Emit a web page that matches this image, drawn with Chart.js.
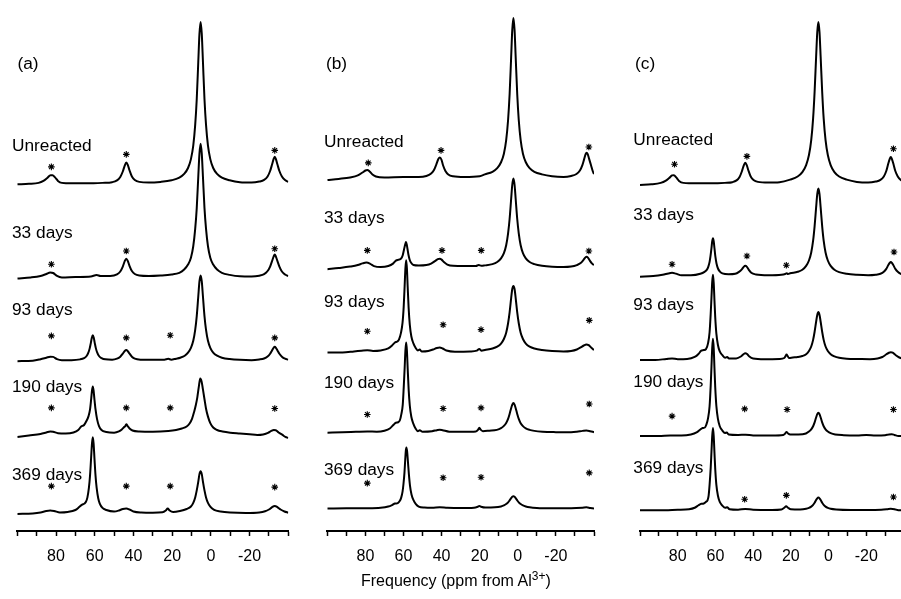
<!DOCTYPE html>
<html>
<head>
<meta charset="utf-8">
<script src="https://cdn.jsdelivr.net/npm/chart.js@4.4.1/dist/chart.umd.min.js"></script>
<style>
  html, body { margin: 0; padding: 0; background: #fff; }
  body { width: 901px; height: 599px; overflow: hidden; position: relative; font-family: "Liberation Sans", Arial, sans-serif; }
  canvas { position: absolute; top: 0; }
  #xtitle { position: absolute; left: 361px; top: 572px; font-size: 16px; line-height: 18px; white-space: nowrap;
            transform-origin: 0 0; transform: scaleX(1.0); color: #000; }
  #xtitle sup { font-size: 12px; vertical-align: 6px; line-height: 0; }
</style>
</head>
<body>
<canvas id="chartA" width="300" height="599" style="left:0px;width:300px;height:599px"></canvas>
<canvas id="chartB" width="305" height="599" style="left:300px;width:305px;height:599px"></canvas>
<canvas id="chartC" width="310" height="599" style="left:605px;width:310px;height:599px"></canvas>
<div id="xtitle">Frequency (ppm from Al<sup>3+</sup>)</div>
<script>
// Etiquetas de las muestras y del eje
const sampleNames = ['Unreacted', '33 days', '93 days', '190 days', '369 days'];
const ppmTicks = [100, 90, 80, 70, 60, 50, 40, 30, 20, 10, 0, -10, -20, -30, -40];
const tickLabels = [80, 60, 40, 20, 0, -20];

// Espectros: [ppm, intensidad sobre la línea base]
// ---- panel (a)
const aUnreacted = [[100,-1],[94,-0.5],[89,0.5],[86.5,2.5],[84.5,5.5],[82.8,8.3],[81.8,8.3],[80.5,6],[79,2.5],[77,0.5],[72,0],[64,0],[56,0.5],[51,1.2],[48.5,3],[46.8,6.5],[45.5,12],[44.5,18],[43.7,21],[42.9,18.5],[42,13],[40.8,7],[39.3,3.5],[37,1.5],[32,0.8],[26,1.5],[20.3,3.1],[16.3,5.7],[13.8,9.5],[11.8,15.5],[10.3,24.5],[9.1,38],[8.1,59],[7.3,85],[6.5,123],[5.9,151],[5.3,163],[4.7,151],[4.1,123],[3.3,85],[2.5,59],[1.5,38],[0.3,24.5],[-1.2,15.5],[-3.2,9.5],[-5.7,5.7],[-9.7,3.1],[-15,1.2],[-21,0.8],[-25,1.8],[-27.5,3.5],[-29.3,7],[-30.6,12.5],[-31.6,19],[-32.4,24.5],[-33,27],[-33.6,24.5],[-34.4,19],[-35.4,12.5],[-36.7,7],[-38.3,3.3],[-40,1.5]];
const a33 = [[100,-1],[93,0],[88,1.5],[85,3.5],[83,5],[81.5,4.5],[79.5,1.5],[77,0],[70,0.5],[62,1],[59,2.5],[57,1.5],[52,1.5],[48.5,3],[46.8,6],[45.5,11],[44.5,16.5],[43.7,19],[42.9,16.5],[42,11.5],[40.8,6.5],[39.3,3.5],[37,2],[32,1.5],[26,2],[20.3,3],[16.3,4.7],[13.8,8],[11.8,13],[10.3,20],[9.1,31.5],[8.1,49],[7.3,70],[6.5,102],[5.9,125],[5.3,135],[4.7,125],[4.1,102],[3.3,70],[2.5,49],[1.5,31.5],[0.3,20],[-1.2,13],[-3.2,8],[-5.7,4.7],[-9.7,2.6],[-15,1.2],[-21,1],[-25,1.8],[-27.5,3.3],[-29.3,6.5],[-30.6,11],[-31.6,16.5],[-32.4,21],[-33,23.3],[-33.6,21],[-34.4,16.5],[-35.4,11],[-36.7,6],[-38.3,3],[-40,1.3]];
const a93 = [[100,-0.5],[92,0],[88,1.5],[85,3],[83,4],[81.5,3.8],[79.5,1.5],[77,0.5],[72,0.5],[67.5,1.3],[65.5,2.6],[64.2,4.7],[63.3,8],[62.6,12.4],[62,18],[61.5,23.2],[61,25.7],[60.5,23.2],[60,18],[59.4,12.4],[58.7,8],[57.8,4.7],[56.5,2.6],[54.5,1.3],[51,1],[48.5,2],[46.8,4],[45.5,7],[44.5,9.8],[43.7,10.7],[42.9,9.5],[42,7],[40.8,4],[39.3,2],[36,1],[30,0.8],[24,1],[22,1.8],[20.5,1],[18,2],[15.8,3],[13.5,5],[11.8,8.2],[10.3,13],[9.1,20],[8.1,31],[7.3,45],[6.5,65],[5.9,80],[5.3,86],[4.7,80],[4.1,65],[3.3,45],[2.5,31],[1.5,20],[0.3,13],[-1.2,8.2],[-3.2,5],[-5.7,3],[-9.7,1.6],[-15,0.8],[-21,0.5],[-25,1.2],[-27.5,2.2],[-29.3,4.2],[-30.6,7],[-31.6,10.3],[-32.4,13],[-33,14],[-33.6,13],[-34.4,10.3],[-35.4,7],[-36.7,4],[-38.3,2],[-40,1]];
const a190 = [[100,-1],[94,0.5],[88,2],[85,3.5],[83,4.5],[81.5,4.2],[79,2.8],[75,2.5],[71,3.5],[68.5,6],[67,9.5],[65.5,11],[64.3,15],[63.2,20],[62.4,27],[61.8,38],[61.4,46],[61,50],[60.6,46],[60.2,38],[59.6,27],[58.8,17],[57.8,10],[56.5,6],[54,4],[50,3.3],[47.5,4.5],[46,6.5],[44.8,9],[44.2,10],[43.7,11.7],[43,10],[42,7.5],[40.5,5.5],[37,4.5],[30,4.3],[22,5],[18,6],[15,7.5],[12.5,9.5],[11,12.5],[9.7,17.5],[8.7,24],[7.8,31],[7,39],[6.2,50],[5.5,58],[4.8,55],[4.1,47],[3.3,37],[2.5,27.5],[1.5,19.5],[0.3,13],[-1.2,8.5],[-3.2,6],[-6,4.5],[-10,3.3],[-15,2.5],[-20,1.7],[-24,1],[-27,1.5],[-29.5,3],[-31.2,5],[-32.5,6],[-33.5,5.8],[-35,3.5],[-37,1],[-38.5,-1],[-40,-2]];
const a369 = [[100,-0.5],[92,0],[88,1],[85,2.5],[83,3],[81,2.5],[78,1],[74,1.5],[70,3.5],[68,6.5],[66.5,9],[65.5,9.8],[64.6,11.5],[63.8,16],[63,26],[62.4,39],[61.9,55],[61.4,71],[61,77],[60.6,71],[60.1,54.4],[59.6,38.5],[59,25.8],[58.2,15.4],[57.4,10],[56,5.6],[54,3.5],[50,2],[47.5,3],[45.5,4.5],[43.7,5],[42,4],[40,2],[36,1],[30,0.8],[25,1.2],[23.3,3],[22.3,5],[21.3,3],[19.5,1.5],[16,2.5],[12.5,4.5],[10.3,7],[9.1,10.7],[8.1,16.2],[7.3,23.3],[6.5,32.2],[5.9,39.7],[5.3,42.6],[4.7,39.7],[4.1,32.2],[3.3,23.3],[2.5,16.2],[1.5,10.7],[0.3,7],[-1.7,3.6],[-5,2],[-10,1],[-18,0.5],[-25,1],[-28,2.2],[-30,4],[-31.5,6.2],[-33,7.6],[-34.5,6.2],[-36,4],[-38,2],[-40,0.8]];
// ---- panel (b)
const bUnreacted = [[100,-2.7],[94,-1.5],[88,0],[84,2],[81.5,5],[80,7],[79,7.5],[77.8,6],[76.3,3],[74.5,1],[70,0],[60,0.5],[52,0.5],[48,1.5],[45.5,4],[44,7.5],[42.8,13],[41.7,18.5],[40.9,20],[40.1,18],[39.2,12],[38,6.5],[36.5,3],[34,1.2],[28,0.5],[20,1.2],[17.3,3.1],[13.3,5.7],[10.8,9.4],[8.8,15.3],[7.3,24],[6.1,37.7],[5.1,58],[4.3,84],[3.5,121],[2.9,149],[2.3,161],[1.7,149],[1.1,121],[0.3,84],[-0.5,58],[-1.5,37.7],[-2.7,24],[-4.2,15.3],[-6.2,9.4],[-8.7,5.7],[-12.7,3.1],[-18,1.2],[-24,0.5],[-28,1.5],[-30.8,3.5],[-32.6,7],[-33.9,12.5],[-34.9,19],[-35.6,23.5],[-36.1,25],[-36.7,23.5],[-37.4,19],[-38.4,12.5],[-39.4,6],[-40,3.5]];
const b33 = [[100,-1.7],[94,-0.5],[88,1],[84,2.5],[81.5,4.2],[79.5,5],[77.5,3.8],[75.5,1.5],[72,0.5],[68,1.5],[65.5,4],[64,7],[62.5,8],[61.3,9],[60.4,12.5],[59.7,18.5],[59.1,23.4],[58.7,25.7],[58.3,23.4],[57.9,18.7],[57.4,12.9],[56.8,8.2],[56,4.8],[54.8,2.5],[52,2],[48,2.5],[45.5,4],[43.5,6.5],[42,8.5],[40.9,9],[40,8],[38.8,5.5],[37,3],[34,1.7],[28,1.5],[22,1.6],[20.5,2.5],[19.2,1.8],[17.3,2.2],[13.3,3.5],[10.8,5.6],[8.8,9.3],[7.3,14.6],[6.1,22.5],[5.1,34.6],[4.3,49],[3.5,69],[2.9,83.6],[2.3,90],[1.7,83.6],[1.1,69],[0.3,49],[-0.5,34.6],[-1.5,22.5],[-2.7,14.6],[-4.2,9.3],[-6.2,5.6],[-8.7,3.5],[-12.7,1.8],[-18,0.8],[-24,0.5],[-28,1],[-31,2.5],[-33,4.5],[-34.6,8],[-35.5,10.3],[-36.1,11],[-36.8,10],[-37.8,7],[-39,4],[-40,2.5]];
const b93 = [[100,0],[92,0],[86,1],[82,1.8],[79,2.3],[76,1.5],[72,2],[68,4],[66,7],[64.5,10],[63.3,11],[62.4,13],[61.3,20],[60.5,30],[59.9,46],[59.4,67],[59,85],[58.6,93],[58.2,84.4],[57.8,66],[57.3,44.7],[56.7,28],[55.9,16.3],[54.8,9.1],[53.6,4.5],[52.5,2],[51.5,3],[50.5,1],[47,1.5],[44.5,3],[42.5,4.5],[41,5],[39.5,4],[37.5,2],[33,0.8],[25,1],[21.5,1.8],[20.2,3.5],[19,1.8],[17.3,2.5],[13.3,4],[10.8,5.9],[8.8,9],[7.3,13.6],[6.1,19.9],[5.1,29.5],[4.3,40.5],[3.5,54.6],[2.9,64],[2.3,67],[1.7,64],[1.1,54.6],[0.3,40.5],[-0.5,29.5],[-1.5,19.9],[-2.7,13.6],[-4.2,9],[-6.2,5.9],[-8.7,4],[-12.7,2.5],[-18,1.5],[-24,1],[-28,1.5],[-31,3],[-33,5],[-34.6,7],[-36,8],[-37.2,7.3],[-38.5,5],[-40,2.5]];
const b190 = [[100,0],[92,0.3],[85,0.8],[79,1.2],[74,1],[70,2],[67,4.5],[65.2,8],[64,10],[62.8,10.5],[61.9,12.5],[61.1,19],[60.4,28],[59.9,45],[59.4,65],[59,83],[58.6,91],[58.2,82.6],[57.8,64.6],[57.3,43.7],[56.7,27.4],[55.9,16],[54.8,8.9],[53.6,4],[52.5,1.5],[51.5,2.5],[50,1],[45,1.5],[42.5,2.5],[41,3],[39.5,2.5],[36,1],[28,0.8],[22,1.2],[20.8,3],[20.2,5],[19.5,3],[18.3,1.5],[15,2],[11,2.8],[8.8,4.5],[7.3,6.8],[6.1,9.8],[5.1,13.9],[4.3,18.9],[3.5,24.7],[2.9,28.4],[2.3,30],[1.7,28.4],[1.1,24.7],[0.3,18.9],[-0.5,13.9],[-1.5,9.6],[-2.7,6.6],[-4.2,4.3],[-6.2,2.8],[-8.7,1.8],[-13,1],[-20,0.5],[-26,0.3],[-31,1],[-34,1.8],[-36,2.2],[-38,1.5],[-40,0.5]];
const b369 = [[100,0],[90,0.2],[80,0.3],[72,0.8],[68,2],[66,3.5],[64.5,5],[63,5.5],[62,7.5],[61.2,11],[60.5,17],[60,25],[59.5,36],[59.1,49],[58.8,58],[58.5,61.7],[58.1,57.6],[57.7,48],[57.2,35.2],[56.6,23.2],[55.8,14.2],[54.7,8.2],[53.5,4.5],[52,2],[49,1],[45,0.8],[41,1.3],[37,0.8],[30,0.5],[23,0.8],[21,1.8],[20.2,2.5],[19.3,1.8],[17,1],[12,1.2],[8.8,2.1],[7.3,3.1],[6.1,4.5],[5.1,6.2],[4.3,8.2],[3.5,10.4],[2.9,11.8],[2.3,12.3],[1.7,11.8],[1.1,10.4],[0.3,8.2],[-0.5,6.2],[-1.5,4.5],[-2.7,3.1],[-4.2,2.1],[-6.2,1.3],[-10,0.6],[-18,0.3],[-28,0.3],[-34,0.8],[-36,1.2],[-38,0.6],[-40,0]];
// ---- panel (c)
const cUnreacted = [[100,-1.7],[94,-1],[89,0.5],[86.5,2.5],[84.5,5.5],[83,8],[82,8.3],[80.8,6],[79.3,2.5],[77,0.5],[70,0],[62,0],[55,0.5],[51,1.2],[48.8,3],[47.2,6.5],[46,12],[45,18],[44.2,20.7],[43.4,18.5],[42.5,13],[41.3,7],[39.8,3.5],[37.5,1.5],[32,0.8],[26,1.2],[20.4,3.8],[16.4,6.9],[13.9,11.3],[11.9,18.5],[10.4,28.6],[9.2,43.6],[8.2,65.6],[7.4,92.8],[6.6,127.8],[6,152.6],[5.4,163],[4.8,152.6],[4.2,127.8],[3.4,92.8],[2.6,65.6],[1.6,43.6],[0.4,28.6],[-1.1,18.5],[-3.1,11.3],[-5.6,6.9],[-9.6,3.8],[-15,1.5],[-21,0.8],[-25,1.8],[-27.5,3.5],[-29.3,7],[-30.6,12.5],[-31.6,19.5],[-32.4,24.5],[-33,26.7],[-33.6,24.5],[-34.4,19.5],[-35.4,12.5],[-36.7,7],[-38.3,3.3],[-40,1.5]];
const c33 = [[100,-1],[93,-0.3],[88,1],[85,2.3],[83,3],[81,2.2],[78,0.5],[73,0.5],[68,2],[65.8,4],[64.6,6],[63.8,9],[63.1,14],[62.6,20],[62.1,28],[61.7,35],[61.3,38],[60.9,34.7],[60.5,27.6],[60,19],[59.4,12.1],[58.6,7.1],[57.5,4],[56.3,2.4],[53,1.5],[49.5,2],[47.5,4],[46,6.5],[45,9],[44.2,10],[43.3,9],[42.3,6],[41,3],[38.5,1.3],[32,0.5],[25,1],[23,1.8],[22.2,2.5],[21.5,1.8],[20.4,2.5],[16.4,4],[13.9,6.1],[11.9,10],[10.4,15.4],[9.2,23.5],[8.2,35.4],[7.4,50.1],[6.6,69],[6,82.4],[5.4,88],[4.8,82.4],[4.2,69],[3.4,50.1],[2.6,35.4],[1.6,23.5],[0.4,15.4],[-1.1,10],[-3.1,6.1],[-5.6,3.7],[-9.6,2],[-15,1],[-21,0.5],[-25,1],[-27.5,2],[-29.3,4],[-30.6,7],[-31.6,10.5],[-32.4,13],[-33,14],[-33.6,13],[-34.4,10.5],[-35.4,7],[-36.7,4],[-38.3,2],[-40,1]];
const c93 = [[100,0],[92,0],[86,1],[83,1.5],[80,0.8],[75,1],[71,3],[69,6],[67.5,9.5],[66.2,10],[65,11],[63.9,17],[63.1,28],[62.5,47],[62.1,63],[61.7,79],[61.3,86],[60.9,77.4],[60.5,59.5],[60.1,43],[59.5,26.5],[58.7,15.3],[57.7,8.6],[56.3,4.8],[54.8,2.3],[53.8,3],[52.8,1.5],[49,1.5],[46.5,3.5],[45,6],[44.2,6.7],[43.2,6],[42,3.5],[40,1.5],[34,0.8],[26,1],[23.5,2],[22.8,4],[22.3,5.5],[21.7,4],[21,2],[19,2.5],[16.4,3],[13.9,4],[11.9,5.8],[10.4,9.1],[9.2,13.6],[8.2,20.3],[7.4,28.5],[6.6,38.6],[6,45.5],[5.4,48.3],[4.8,45.5],[4.2,38.6],[3.4,28.5],[2.6,20.3],[1.6,13.6],[0.4,9.1],[-1.1,5.8],[-3.1,3.6],[-5.6,2.2],[-9.6,1.3],[-16,1],[-22,0.8],[-26,1.5],[-28.5,3],[-30.5,5.5],[-32,7.3],[-33,7.7],[-34,7.3],[-35.5,5],[-37.5,2.5],[-40,1]];
const c190 = [[100,0],[90,0],[84,0.5],[78,0.5],[73,1.5],[70,3.5],[68,6.5],[66.8,8],[65.6,8.5],[64.9,11],[63.9,18],[63.1,30],[62.5,51],[62.1,70],[61.7,89],[61.3,98],[60.9,88.2],[60.5,67.8],[60.1,49],[59.5,30.2],[58.7,17.4],[57.7,9.8],[56.3,5.4],[55,3],[54,3.5],[53,1.5],[48,1],[44,1.2],[40,0.5],[30,0.5],[24,1],[23,2.5],[22.3,4],[21.5,2.5],[20.3,1.5],[16,1.5],[12,2.5],[10.4,4.4],[9.2,6.6],[8.2,9.8],[7.4,13.7],[6.6,18.6],[6,22],[5.4,23.3],[4.8,22],[4.2,18.6],[3.4,13.7],[2.6,9.8],[1.6,6.6],[0.4,4.4],[-1.1,2.8],[-3.5,1.5],[-8,0.8],[-15,0.5],[-20,1],[-25,0.5],[-30,0.8],[-32,1.5],[-33.5,1.7],[-35,1],[-37,0],[-40,0]];
const c369 = [[100,0],[90,0],[80,0.5],[74,1],[71,2.5],[69,5],[67.5,6.5],[66.2,6.8],[65,8.5],[64.2,10],[63.6,14.8],[63.1,25.5],[62.5,43],[62.1,59],[61.7,75],[61.3,83],[60.9,74.7],[60.5,57.5],[60.1,41.5],[59.5,25.5],[58.7,14.8],[57.7,8.3],[56.3,4.6],[54.8,2.5],[53.8,3],[52.5,1],[48,0.5],[44.2,1.2],[40,0.5],[30,0.3],[25,0.8],[23.5,2.5],[22.5,4],[21.5,2.5],[20,1],[15,0.8],[11.9,1.5],[10.4,2.4],[9.2,3.6],[8.2,5.3],[7.4,7.5],[6.6,10.2],[6,12],[5.4,12.7],[4.8,12],[4.2,10.2],[3.4,7.5],[2.6,5.3],[1.6,3.6],[0.4,2.4],[-1.1,1.5],[-4,0.8],[-12,0.3],[-20,0.3],[-28,0.5],[-31,1],[-33,1.5],[-35,1],[-37,0],[-40,0]];

// Desplazamiento vertical de cada espectro dentro de su panel
const offsetsA = [351, 256, 172, 96, 17.7];
const offsetsB = [357, 266, 180.3, 99.3, 22.7];
const offsetsC = [351, 257.7, 172.7, 96, 21];

// Asteriscos (bandas laterales de giro): [ppm, altura]
const starsA = [
  [[82.4,367.7],[43.7,380.3],[-33,384.3]],
  [[82.4,269.3],[43.7,282.7],[-33,285]],
  [[82.4,197],[43.7,195],[21,197.7],[-33,195]],
  [[82.4,124.3],[43.7,124.3],[21,124.3],[-33,123.7]],
  [[82.4,45.3],[43.7,45.3],[21,45.3],[-33,44.3]]
];
const starsB = [
  [[78.5,371.7],[40.3,384.3],[-37.3,387.7]],
  [[79,283.3],[39.8,283.3],[19.2,283.3],[-37.3,282.7]],
  [[79,201.7],[39.2,208.3],[19.3,203.3],[-37.5,212.7]],
  [[79,117.7],[39.2,123.7],[19.3,124.3],[-37.5,128.3]],
  [[79,48.3],[39.2,53.7],[19.3,54.3],[-37.5,58.7]]
];
const starsC = [
  [[81.7,370.3],[43.3,378.3],[-34.4,386]],
  [[83,269.3],[43.3,277.7],[22.4,268.3],[-34.7,281.7]],
  [],
  [[83,116],[44.5,123.3],[22,122.7],[-34.4,122.7]],
  [[44.5,32],[22.4,36],[-34.4,34.3]]
];

const FONT = '"Liberation Sans", Arial, Helvetica, sans-serif';
Chart.defaults.font.family = FONT;
Chart.defaults.color = '#000';

// Dibuja los nombres de las muestras y la letra del panel
const labelPlugin = {
  id: 'spectrumLabels',
  afterDraw(chart, args, opts) {
    const ctx = chart.ctx;
    const put = (txt, x, y) => {
      ctx.save();
      ctx.translate(x, y);
      ctx.scale(1.08, 1);
      ctx.fillText(txt, 0, 0);
      ctx.restore();
    };
    ctx.save();
    ctx.fillStyle = '#000';
    ctx.font = '16px ' + FONT;
    ctx.textBaseline = 'alphabetic';
    ctx.textAlign = 'left';
    put(opts.letter, opts.letterX, opts.letterY);
    sampleNames.forEach((name, i) => put(name, opts.nameX, opts.nameY[i]));
    ctx.restore();
  }
};

function buildPanel(canvasId, spectra, offsets, stars, pad, labels) {
  const datasets = [];
  spectra.forEach((pts, i) => {
    datasets.push({
      data: pts.map(p => ({ x: p[0], y: offsets[i] + p[1] })),
      borderColor: '#000',
      borderWidth: 2,
      pointRadius: 0,
      fill: false,
      cubicInterpolationMode: 'monotone',
      borderJoinStyle: 'round'
    });
  });
  stars.forEach(s => {
    datasets.push({
      data: s.map(p => ({ x: p[0], y: p[1] })),
      showLine: false,
      pointStyle: 'star',
      pointRadius: 3.3,
      borderWidth: 1.1,
      borderColor: '#000',
      backgroundColor: '#000'
    });
  });

  return new Chart(document.getElementById(canvasId), {
    type: 'line',
    data: { datasets },
    options: {
      responsive: false,
      animation: false,
      events: [],
      layout: { padding: { left: pad[0], right: pad[1], top: 0, bottom: 28 } },
      plugins: {
        legend: { display: false },
        tooltip: { enabled: false },
        spectrumLabels: labels
      },
      scales: {
        x: {
          type: 'linear',
          reverse: true,
          min: -40,
          max: 100,
          afterBuildTicks: (scale) => { scale.ticks = ppmTicks.map(v => ({ value: v })); },
          afterFit: (scale) => { scale.height = 40; },
          border: { display: true, color: '#000', width: 2 },
          grid: { drawOnChartArea: false, drawTicks: true, tickLength: 5, tickColor: '#000', tickWidth: 1.5, color: '#000' },
          ticks: {
            autoSkip: false,
            maxRotation: 0,
            padding: 11,
            color: '#000',
            font: { size: 16 },
            callback: (v) => tickLabels.includes(v) ? String(v) : ''
          }
        },
        y: { display: false, min: 0, max: 531 }
      }
    },
    plugins: [labelPlugin]
  });
}

buildPanel('chartA', [aUnreacted, a33, a93, a190, a369], offsetsA, starsA, [17.3, 11.7],
  { letter: '(a)', letterX: 17.5, letterY: 69, nameX: 12, nameY: [150.7, 238, 315, 391.7, 480] });
buildPanel('chartB', [bUnreacted, b33, b93, b190, b369], offsetsB, starsB, [27.3, 8.3],
  { letter: '(b)', letterX: 26, letterY: 69, nameX: 24, nameY: [146.7, 223.3, 306.7, 388.3, 475] });
buildPanel('chartC', [cUnreacted, c33, c93, c190, c369], offsetsC, starsC, [35, 7.7],
  { letter: '(c)', letterX: 30, letterY: 69, nameX: 28.3, nameY: [145, 220, 310, 386.7, 473.3] });
</script>
</body>
</html>
